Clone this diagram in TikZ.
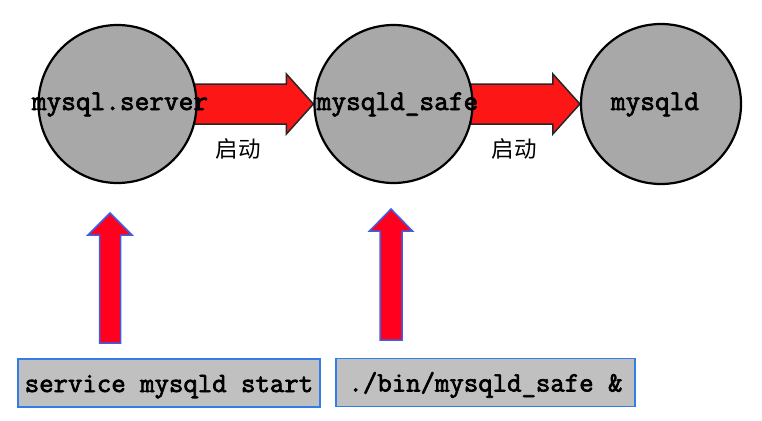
\documentclass[tikz,border=0pt]{standalone}
\usepackage{fontspec}
\newfontfamily\cjk{Noto Sans CJK SC}
\newfontfamily\codefont[FakeBold=2.5]{Latin Modern Mono}
\usetikzlibrary{calc,backgrounds}
\definecolor{circgray}{RGB}{168,168,168}
\definecolor{boxgray}{RGB}{192,192,192}
\definecolor{boxblue}{RGB}{50,125,230}
\definecolor{arrred}{RGB}{252,22,22}
\definecolor{uparred}{RGB}{255,0,30}
\definecolor{uparblue}{RGB}{60,95,230}
\begin{document}
\begin{tikzpicture}[x=1pt,y=-1pt,
  proc/.style={circle,draw=black,line width=2.2pt,fill=circgray,minimum size=158pt,inner sep=0pt},
  lbl/.style={anchor=base,inner sep=0pt,font=\fontsize{28.5}{30}\codefont},
  cmdbox/.style={draw=boxblue,line width=1.8pt,fill=boxgray,inner sep=0pt,
    text height=33pt,text depth=15pt,font=\fontsize{28}{30}\codefont},
  harrow/.style={fill=arrred,draw=black!85,line width=1.5pt,line join=miter},
  varrow/.style={fill=uparred,draw=uparblue,line width=1.5pt,line join=miter},
  note/.style={anchor=base,inner sep=0pt,font=\cjk\fontsize{22.5}{24}\selectfont}]
\useasboundingbox (0,0) rectangle (762,420);
% processes
\node[proc] (c1) at (117.5,104) {};
\node[proc] (c2) at (393.5,104) {};
\node[proc,minimum size=160pt] (c3) at (661,104) {};
% horizontal arrows
\begin{scope}[on background layer]
\draw[harrow] ($(c1.east)+(-3,-20)$) -- ($(c2.west)+(-27,-20)$) -- ($(c2.west)+(-27,-30)$)
  -- (c2.west) -- ($(c2.west)+(-27,30)$) -- ($(c2.west)+(-27,20)$) -- ($(c1.east)+(-3,20)$) -- cycle;
\draw[harrow] ($(c2.east)+(-3,-20)$) -- ($(c3.west)+(-27,-20)$) -- ($(c3.west)+(-27,-30)$)
  -- (c3.west) -- ($(c3.west)+(-27,30)$) -- ($(c3.west)+(-27,20)$) -- ($(c2.east)+(-3,20)$) -- cycle;
\end{scope}
% labels
\node[lbl] (t1) at (120,110) {mysql.server};
\node[lbl] (t2) at (397.5,110) {mysqld\_safe};
\node[lbl] (t3) at (655,110) {mysqld};
\node[note] (n1) at (238,157.5) {启动};
\node[note] (n2) at (514,157.5) {启动};
% command boxes
\node[cmdbox,minimum width=302pt] (b1) at (169,383) {service mysqld start};
\node[cmdbox,minimum width=299pt] (b2) at (485.5,382.5) {./bin/mysqld\_safe \&};
% vertical arrows
\coordinate (u1b) at (110,343);
\coordinate (u1t) at (110,213);
\coordinate (u2b) at (391,340);
\coordinate (u2t) at (391,209);
\draw[varrow] ($(u1b)+(-10.5,0)$) -- ($(u1t)+(-10.5,22)$) -- ($(u1t)+(-22,22)$) -- (u1t)
  -- ($(u1t)+(22,22)$) -- ($(u1t)+(10.5,22)$) -- ($(u1b)+(10.5,0)$) -- cycle;
\draw[varrow] ($(u2b)+(-11,0)$) -- ($(u2t)+(-11,22)$) -- ($(u2t)+(-21.5,22)$) -- (u2t)
  -- ($(u2t)+(21.5,22)$) -- ($(u2t)+(11,22)$) -- ($(u2b)+(11,0)$) -- cycle;
\end{tikzpicture}
\end{document}
